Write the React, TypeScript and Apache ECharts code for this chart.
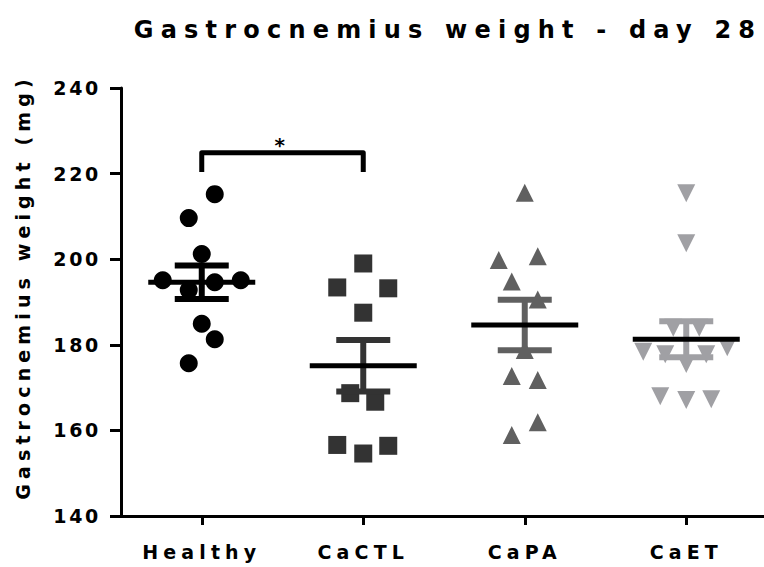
import React, { useEffect, useRef } from "react";
import * as echarts from "echarts";

const titleText = "Gastrocnemius weight - day 28";
const yAxisName = "Gastrocnemius weight (mg)";
const categories = ["Healthy", "CaCTL", "CaPA", "CaET"];

const healthy = [215.2, 209.6, 201.2, 195.1, 192.8, 194.6, 195.1, 184.9, 181.3, 175.7];
const healthyJitter = [13, -13, 0, -39, -13, 13, 39, 0, 13, -13];
const caCTL = [199.0, 193.4, 193.2, 187.5, 168.7, 166.7, 156.6, 154.6, 156.4];
const caCTLJitter = [0, -26, 25, 0, -13, 12, -26, 0, 25];
const caPA = [215.5, 199.8, 200.7, 194.8, 190.6, 178.8, 172.7, 171.8, 161.9, 158.9];
const caPAJitter = [0, -26, 13, -13, 13, 0, -13, 13, 13, -13];
const caET = [215.4, 203.7, 184.0, 184.0, 178.4, 177.8, 177.8, 179.4, 175.5, 168.0, 167.1, 167.3];
const caETJitter = [0, 0, -13, 13, -43, -21, 20, 41, 0, -26, 0, 25];

const means = [194.6, 175.1, 184.6, 181.3];
const sems = [3.9, 6.0, 5.9, 4.2];

const yMin = 140;
const yMax = 240;
const yInterval = 20;

// significance bracket: between category 0 and 1, top value, leg bottom value
const sigPairs = [[0, 1, 224.9, 220.4]];
const sigLabels = ["*"];

const groupValues = [healthy, caCTL, caPA, caET];
const groupJitter = [healthyJitter, caCTLJitter, caPAJitter, caETJitter];
const groupColors = ["#000000", "#333333", "#606060", "#a0a0a4"];
const groupSymbols = ["circle", "rect", "triangle", "triangle"];
const groupRotate = [0, 0, 0, 180];

const FONT = "'DejaVu Sans', 'Liberation Sans', Arial, sans-serif";

export default function App() {
  const ref = useRef<HTMLDivElement>(null);

  useEffect(() => {
    if (!ref.current) return;
    const chart = echarts.init(ref.current, undefined, { renderer: "svg" });

    const scatterSeries = groupValues.map((vals, gi) => ({
      type: "scatter",
      name: categories[gi],
      z: 2,
      symbol: groupSymbols[gi],
      symbolSize: 18,
      symbolRotate: groupRotate[gi],
      itemStyle: { color: groupColors[gi], opacity: 1 },
      data: vals.map((v, k) => ({
        value: [gi, v],
        symbolOffset: [groupJitter[gi][k], 0],
      })),
    }));

    const option: any = {
      animation: false,
      backgroundColor: "#ffffff",
      textStyle: { fontFamily: FONT },
      grid: {
        left: 121,
        top: 88,
        width: 646,
        height: 428,
        containLabel: false,
        outerBoundsMode: "none",
      },
      xAxis: {
        type: "category",
        data: categories,
        boundaryGap: true,
        axisLine: { show: true, lineStyle: { color: "#000", width: 3 } },
        axisTick: { show: true, alignWithLabel: true, length: 9, lineStyle: { color: "#000", width: 3 } },
        axisLabel: {
          color: "#000",
          fontSize: 19,
          fontWeight: "bold",
          fontFamily: FONT,
          margin: 26,
        },
        splitLine: { show: false },
      },
      yAxis: {
        type: "value",
        min: yMin,
        max: yMax,
        interval: yInterval,
        axisLine: { show: true, lineStyle: { color: "#000", width: 3 } },
        axisTick: { show: true, length: 11, lineStyle: { color: "#000", width: 3 } },
        axisLabel: {
          color: "#000",
          fontSize: 19,
          fontWeight: "bold",
          fontFamily: FONT,
          margin: 20,
        },
        splitLine: { show: false },
      },
      graphic: [
        {
          type: "text",
          x: 448,
          y: 30,
          style: {
            text: titleText,
            fill: "#000",
            font: `bold 24px ${FONT}`,
            textAlign: "center",
            textVerticalAlign: "middle",
          },
        },
        {
          type: "text",
          x: 23,
          y: 287,
          rotation: Math.PI / 2,
          style: {
            text: yAxisName,
            fill: "#000",
            font: `bold 19px ${FONT}`,
            textAlign: "center",
            textVerticalAlign: "middle",
          },
        },
      ],
      series: [
        ...scatterSeries,
        {
          type: "custom",
          name: "sem",
          z: 3,
          encode: { x: 0, y: 1 },
          data: means.map((m, i) => [i, m, sems[i]]),
          renderItem: (params: any, api: any) => {
            const i = api.value(0);
            const m = api.value(1);
            const s = api.value(2);
            const top = api.coord([i, m + s]);
            const bot = api.coord([i, m - s]);
            const color = groupColors[params.dataIndex];
            const half = 27;
            return {
              type: "group",
              children: [
                { type: "line", shape: { x1: top[0], y1: top[1], x2: bot[0], y2: bot[1] }, style: { stroke: color, lineWidth: 6 } },
                { type: "line", shape: { x1: top[0] - half, y1: top[1], x2: top[0] + half, y2: top[1] }, style: { stroke: color, lineWidth: 6 } },
                { type: "line", shape: { x1: bot[0] - half, y1: bot[1], x2: bot[0] + half, y2: bot[1] }, style: { stroke: color, lineWidth: 6 } },
              ],
            };
          },
        },
        {
          type: "custom",
          name: "mean",
          z: 4,
          encode: { x: 0, y: 1 },
          data: means.map((m, i) => [i, m]),
          renderItem: (params: any, api: any) => {
            const p = api.coord([api.value(0), api.value(1)]);
            const half = 53.5;
            return {
              type: "line",
              shape: { x1: p[0] - half, y1: p[1], x2: p[0] + half, y2: p[1] },
              style: { stroke: "#000", lineWidth: 5 },
            };
          },
        },
        {
          type: "custom",
          name: "significance",
          z: 5,
          encode: { x: 0, y: 2 },
          data: sigPairs,
          renderItem: (params: any, api: any) => {
            const a = api.value(0);
            const b = api.value(1);
            const topV = api.value(2);
            const legV = api.value(3);
            const p1 = api.coord([a, legV]);
            const p2 = api.coord([a, topV]);
            const p3 = api.coord([b, topV]);
            const p4 = api.coord([b, legV]);
            return {
              type: "group",
              children: [
                {
                  type: "polyline",
                  shape: { points: [p1, p2, p3, p4] },
                  style: { stroke: "#000", lineWidth: 5, lineJoin: "round", fill: "none" },
                },
                {
                  type: "text",
                  x: (p2[0] + p3[0]) / 2,
                  y: p2[1] - 8,
                  style: {
                    text: sigLabels[params.dataIndex],
                    fill: "#000",
                    font: `bold 20px ${FONT}`,
                    textAlign: "center",
                    textVerticalAlign: "middle",
                  },
                },
              ],
            };
          },
        },
      ],
    };

    chart.setOption(option);
    return () => chart.dispose();
  }, []);

  return (
    <div>
      <style>{`#chart text { letter-spacing: 0.27em; } #chart text[text-anchor="end"] { letter-spacing: 0.14em; } #chart text[style*="24px"] { letter-spacing: 0.3em; }`}</style>
      <div id="chart" ref={ref} style={{ width: 764, height: 567, position: "absolute", left: 0, top: 0 }} />
    </div>
  );
}
